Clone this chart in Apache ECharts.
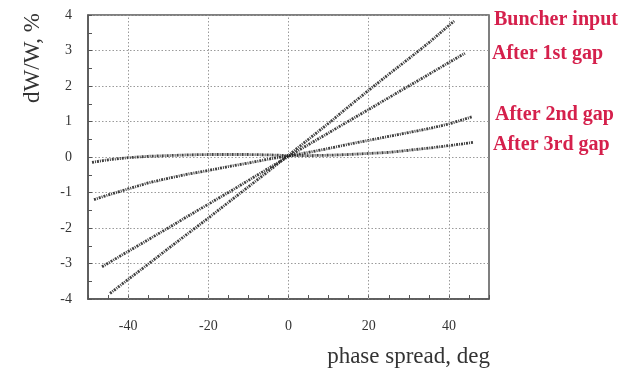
<!DOCTYPE html>
<html>
<head>
<meta charset="utf-8">
<script src="https://cdn.jsdelivr.net/npm/echarts@6/dist/echarts.min.js"></script>
<style>
html,body{margin:0;padding:0;background:#fff;}
#chart{width:632px;height:370px;}
</style>
</head>
<body>
<div id="chart"></div>
<script>
// ---- data (phase spread deg, dW/W %) ----
const buncherInput = [[-44.5,-3.84],[-40,-3.45],[-35,-3.02],[-30,-2.58],[-25,-2.15],[-20,-1.72],[-15,-1.28],[-10,-0.84],[-5,-0.40],[0,0.05],[5,0.50],[10,0.95],[15,1.42],[20,1.88],[25,2.33],[30,2.77],[35,3.22],[41.3,3.83]];
const after1st = [[-46.5,-3.09],[-40,-2.66],[-35,-2.33],[-30,-2.00],[-25,-1.66],[-20,-1.33],[-15,-1.00],[-10,-0.66],[-5,-0.32],[0,0.02],[5,0.35],[10,0.68],[15,1.01],[20,1.34],[25,1.67],[30,2.00],[35,2.33],[40,2.66],[44,2.92]];
const after2nd = [[-48.5,-1.20],[-45,-1.07],[-40,-0.90],[-35,-0.73],[-30,-0.60],[-25,-0.48],[-20,-0.38],[-15,-0.27],[-10,-0.17],[-5,-0.06],[0,0.03],[5,0.13],[10,0.24],[15,0.36],[20,0.47],[25,0.58],[30,0.69],[35,0.80],[40,0.93],[45.7,1.13]];
const after3rd = [[-49,-0.15],[-45,-0.08],[-40,-0.02],[-35,0.02],[-30,0.04],[-25,0.06],[-20,0.07],[-15,0.07],[-10,0.07],[-5,0.06],[0,0.04],[5,0.04],[10,0.05],[15,0.07],[20,0.10],[25,0.13],[30,0.19],[35,0.25],[40,0.32],[46,0.41]];
const seriesNames = ['Buncher input','After 1st gap','After 2nd gap','After 3rd gap'];
const xLabelTicks = [-40,-20,0,20,40];
const xTitle = 'phase spread, deg';
const yTitle = 'dW/W, %';

const SERIF = "'Liberation Serif','Times New Roman',serif";
const chart = echarts.init(document.getElementById('chart'), null, {renderer:'canvas'});

const bandStyle = {color:'#1e1e1e', width:2.8, type:[2,1,1,1], opacity:0.85};
function band(name, data){
  return {name:name, type:'line', data:data, symbol:'none', smooth:false,
    lineStyle:bandStyle, silent:true, z:3};
}

const series = [
  band(seriesNames[0], buncherInput),
  band(seriesNames[1], after1st),
  band(seriesNames[2], after2nd),
  band(seriesNames[3], after3rd),
  {type:'line', data:[], silent:true, z:1,
   markLine:{silent:true, symbol:'none', label:{show:false},
     lineStyle:{color:'#9a9a9a', type:[1.5,2], width:1},
     data: xLabelTicks.map(v => ({xAxis:v}))}}
];

const labelPos = [20, 54, 115, 145];
const labelX = [494, 492, 495, 493];

chart.setOption({
  animation:false,
  backgroundColor:'#fff',
  grid:{left:88, right:143, top:15, bottom:71, show:true, borderColor:'#555', borderWidth:1.5, backgroundColor:'transparent'},
  xAxis:{type:'value', min:-50, max:50, interval:10,
    axisLine:{show:true, onZero:false, lineStyle:{color:'#555', width:1.5}},
    axisTick:{show:true, inside:true, length:4, lineStyle:{color:'#555', width:1}},
    minorTick:{show:true, splitNumber:2, length:4, lineStyle:{color:'#555', width:1}},
    splitLine:{show:false},
    axisLabel:{margin:20, fontFamily:SERIF, fontSize:14, color:'#333',
      formatter: v => (xLabelTicks.indexOf(v) >= 0 ? String(v) : '')}
  },
  yAxis:{type:'value', min:-4, max:4, interval:1,
    axisLine:{show:true, onZero:false, lineStyle:{color:'#555', width:1.5}},
    axisTick:{show:true, inside:true, length:4, lineStyle:{color:'#555', width:1}},
    minorTick:{show:true, splitNumber:2, length:4, lineStyle:{color:'#555', width:1}},
    splitLine:{show:true, lineStyle:{color:'#9a9a9a', type:[1.5,2], width:1}},
    axisLabel:{margin:16, fontFamily:SERIF, fontSize:14, color:'#333'}
  },
  graphic:[
    {type:'text', x:490, y:357, style:{text:xTitle, font:'23px '+SERIF, fill:'#333', align:'right', verticalAlign:'middle'}},
    {type:'text', x:33, y:58, rotation:Math.PI/2, style:{text:yTitle, font:'23px '+SERIF, fill:'#333', align:'center', verticalAlign:'middle'}}
  ].concat(seriesNames.map((n,i) => ({type:'text', x:labelX[i], y:labelPos[i],
      style:{text:n, font:'bold 20px '+SERIF, fill:'#d5204c', align:'left', verticalAlign:'middle'}}))),
  series:series
});
</script>
</body>
</html>
